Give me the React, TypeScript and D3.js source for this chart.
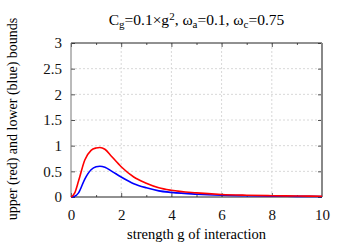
import React, { useEffect, useRef } from "react";
import * as d3 from "d3";

// values
const gValues = [0, 0.15, 0.3, 0.55, 0.8, 1.0, 1.15, 1.35, 1.6, 2.0, 2.5, 3.0, 3.5, 4, 5, 6, 7, 8, 9, 10];
const upperBound = [0, 0.08, 0.31, 0.72, 0.91, 0.955, 0.965, 0.93, 0.8, 0.59, 0.39, 0.27, 0.18, 0.13, 0.08, 0.05, 0.035, 0.025, 0.02, 0.015];
const lowerBound = [0, 0.015, 0.08, 0.35, 0.53, 0.59, 0.6, 0.58, 0.51, 0.39, 0.26, 0.18, 0.12, 0.09, 0.055, 0.035, 0.025, 0.018, 0.013, 0.01];
const xTicks = [0, 2, 4, 6, 8, 10];
const xMinorTicks = [1, 3, 5, 7, 9];
const yTicks = [0, 0.5, 1, 1.5, 2, 2.5, 3];

const W = 349, H = 244;
const margin = { top: 43, right: 27, bottom: 47, left: 71 };
const FONT = "Liberation Serif, Times New Roman, serif";

export default function App() {
  const ref = useRef<SVGSVGElement>(null);

  useEffect(() => {
    const svg = d3.select(ref.current);
    svg.selectAll("*").remove();
    const width = W - margin.left - margin.right;
    const height = H - margin.top - margin.bottom;
    const g = svg.append("g").attr("transform", "translate(" + margin.left + "," + margin.top + ")");

    const x = d3.scaleLinear().domain([0, 10]).range([0, width]);
    const y = d3.scaleLinear().domain([0, 3]).range([height, 0]);

    // grid
    g.append("g")
      .selectAll("line")
      .data(xTicks.slice(1, -1))
      .enter().append("line")
      .attr("x1", d => x(d)).attr("x2", d => x(d))
      .attr("y1", 0).attr("y2", height)
      .attr("stroke", "#d8d8d8").attr("stroke-dasharray", "2,2");
    g.append("g")
      .selectAll("line")
      .data(yTicks.slice(1, -1))
      .enter().append("line")
      .attr("y1", d => y(d)).attr("y2", d => y(d))
      .attr("x1", 0).attr("x2", width)
      .attr("stroke", "#d8d8d8").attr("stroke-dasharray", "2,2");

    // axes (ticks pointing inward)
    const fmt = (d: d3.NumberValue) => String(+d);
    const xAxis = g.append("g")
      .attr("transform", "translate(0," + height + ")")
      .call(d3.axisBottom(x).tickValues(xTicks).tickSize(-4).tickPadding(12).tickFormat(fmt));
    const yAxis = g.append("g")
      .call(d3.axisLeft(y).tickValues(yTicks).tickSize(-4).tickPadding(9).tickFormat(fmt));
    g.append("g").call(d3.axisTop(x).tickValues(xTicks).tickSize(-4).tickFormat(() => ""));
    g.append("g").attr("transform", "translate(" + width + ",0)")
      .call(d3.axisRight(y).tickValues(yTicks).tickSize(-4).tickFormat(() => ""));
    g.append("g").attr("transform", "translate(0," + height + ")")
      .call(d3.axisBottom(x).tickValues(xMinorTicks).tickSize(-2).tickFormat(() => ""));
    g.append("g")
      .call(d3.axisTop(x).tickValues(xMinorTicks).tickSize(-2).tickFormat(() => ""));

    g.selectAll(".domain").remove();
    g.selectAll(".tick line").attr("stroke", "#555");
    g.selectAll("g").attr("font-family", null).attr("font-size", null);
    [xAxis, yAxis].forEach(a => a.selectAll("text")
      .style("font-family", FONT).style("font-size", "15px").attr("fill", "#111"));

    // frame
    g.append("line").attr("x1", 0).attr("x2", width).attr("y1", 0).attr("y2", 0).attr("stroke", "#222");
    g.append("line").attr("x1", 0).attr("x2", width).attr("y1", height).attr("y2", height).attr("stroke", "#222");
    g.append("line").attr("x1", 0).attr("x2", 0).attr("y1", 0).attr("y2", height).attr("stroke", "#777");
    g.append("line").attr("x1", width).attr("x2", width).attr("y1", 0).attr("y2", height).attr("stroke", "#888").attr("stroke-width", 2);

    // curves
    const line = d3.line<number>()
      .x((_, i) => x(gValues[i]))
      .y(d => y(d))
      .curve(d3.curveMonotoneX);
    g.append("path").datum(lowerBound).attr("d", line).attr("fill", "none")
      .attr("stroke", "#0000ff").attr("stroke-width", 1.6);
    g.append("path").datum(upperBound).attr("d", line).attr("fill", "none")
      .attr("stroke", "#ff0000").attr("stroke-width", 1.6);

    // x label
    svg.append("text")
      .attr("x", margin.left + width / 2).attr("y", 239)
      .attr("text-anchor", "middle")
      .style("font-family", FONT).style("font-size", "14.5px")
      .text("strength g of interaction");

    // y label
    svg.append("text")
      .attr("transform", "translate(17," + (margin.top + height / 2 - 1) + ") rotate(-90)")
      .attr("text-anchor", "middle")
      .style("font-family", FONT).style("font-size", "14px")
      .text("upper (red) and lower (blue) bounds");

    // title
    const title = svg.append("text")
      .attr("x", margin.left + width / 2).attr("y", 25)
      .attr("text-anchor", "middle")
      .style("font-family", FONT).style("font-size", "15.5px");
    const parts: [string, string][] = [
      ["C", ""], ["g", "sub"], ["=0.1×g", ""], ["2", "sup"],
      [", ω", ""], ["a", "sub"], ["=0.1, ω", ""], ["c", "sub"], ["=0.75", ""],
    ];
    parts.forEach(([t, kind]) => {
      const s = title.append("tspan").text(t);
      if (kind === "sub") s.style("font-size", "11px").attr("baseline-shift", "-25%");
      if (kind === "sup") s.style("font-size", "11px").attr("baseline-shift", "45%");
    });
  }, []);

  return (
    <svg ref={ref} width={W} height={H}
      style={{ position: "absolute", left: 0, top: 0, background: "#fff" }} />
  );
}
